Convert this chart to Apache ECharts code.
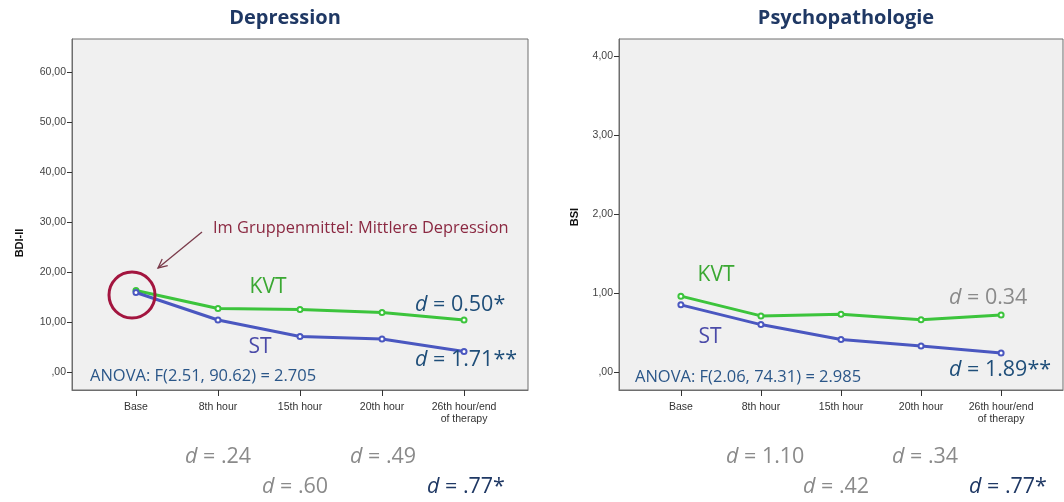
<!DOCTYPE html>
<html>
<head>
<meta charset="utf-8">
<script src="https://cdn.jsdelivr.net/npm/echarts@6/dist/echarts.min.js"></script>
<style>
html,body{margin:0;padding:0;background:#fff;}
#c{width:1064px;height:502px;}
</style>
</head>
<body>
<div id="c"></div>
<script>
// ---- data ----
var categories = ['Base', '8th hour', '15th hour', '20th hour', '26th hour/end\nof therapy'];
var bdiKVT = [16.3, 12.7, 12.5, 11.9, 10.4];
var bdiST  = [15.9, 10.4, 7.1, 6.6, 4.1];
var bsiKVT = [0.96, 0.71, 0.73, 0.66, 0.72];
var bsiST  = [0.85, 0.60, 0.41, 0.33, 0.24];
var bdiTicks = [0, 10, 20, 30, 40, 50, 60];
var bsiTicks = [0, 1, 2, 3, 4];
var catTicks = [0, 1, 2, 3, 4];

function pairs(arr){ return arr.map(function(v,i){ return [i, v]; }); }
function yFmt(v){ return v === 0 ? ',00' : v.toFixed(2).replace('.', ','); }

var GREEN = '#3cc43c', BLUE = '#4a57c0';

function xAxisCfg(idx, min, max){
  return {
    type:'value', gridIndex: idx, min: min, max: max,
    splitLine:{show:false},
    axisLine:{show:true, onZero:false, lineStyle:{color:'#6e6e6e', width:1}},
    axisTick:{show:true, customValues: catTicks, length:6, lineStyle:{color:'#333'}},
    axisLabel:{customValues: catTicks, formatter:function(v){ return categories[Math.round(v)]; },
      color:'#333', fontSize:10.5, fontFamily:'Liberation Sans, Arial', lineHeight:12, margin:11}
  };
}
function yAxisCfg(idx, min, max, ticks){
  return {
    type:'value', gridIndex: idx, min: min, max: max,
    splitLine:{show:false},
    axisLine:{show:true, onZero:false, lineStyle:{color:'#6e6e6e', width:1}},
    axisTick:{show:true, customValues: ticks, length:5, lineStyle:{color:'#333'}},
    axisLabel:{customValues: ticks, formatter: yFmt, color:'#444', fontSize:10.5,
      fontFamily:'Liberation Sans, Arial', margin:6}
  };
}
function lineSeries(name, xi, data, color){
  return {
    name: name, type:'line', xAxisIndex: xi, yAxisIndex: xi, data: pairs(data),
    symbol:'emptyCircle', symbolSize:5,
    lineStyle:{color: color, width:3},
    itemStyle:{color: color, borderColor: color, borderWidth:1},
    emphasis:{disabled:true}, z:3
  };
}

var F = '"Open Sans", "Noto Sans", sans-serif';
function txt(x, y, s, color, size, align, bold){
  return {type:'text', x:x, y:y, z:100, style:{
    text: s, fill: color, font: (bold ? 'bold ' : '') + size + 'px ' + F,
    textAlign: align || 'left', textVerticalAlign:'middle'}};
}
function dTxt(x, y, rest, color, size, align){
  return {type:'text', x:x, y:y, z:100, style:{
    text: '{i|d}{n|' + rest + '}', textAlign: align || 'left', textVerticalAlign:'middle',
    rich:{ i:{fontStyle:'italic', fontSize:size, fontFamily:F, fill:color},
           n:{fontSize:size, fontFamily:F, fill:color} }}};
}

// arrow geometry
var ax0 = 202, ay0 = 232, ax1 = 158, ay1 = 268;
var ang = Math.atan2(ay0 - ay1, ax0 - ax1), hl = 10, ha = Math.PI / 7;
var head = [[ax1 + hl*Math.cos(ang+ha), ay1 + hl*Math.sin(ang+ha)], [ax1, ay1],
            [ax1 + hl*Math.cos(ang-ha), ay1 + hl*Math.sin(ang-ha)]];

var MAROON = '#8b2942', NAVY = '#1f3864', STEEL = '#2a5688', GRAY = '#8a8a8a';

var graphics = [
  txt(285, 18, 'Depression', NAVY, 20, 'center', true),
  txt(846, 18, 'Psychopathologie', NAVY, 20, 'center', true),
  {type:'text', x:20, y:243, rotation:Math.PI/2, z:100, style:{text:'BDI-II', fill:'#111',
    font:'bold 11px "Liberation Sans", Arial', textAlign:'center', textVerticalAlign:'middle'}},
  {type:'text', x:575, y:217, rotation:Math.PI/2, z:100, style:{text:'BSI', fill:'#111',
    font:'bold 11px "Liberation Sans", Arial', textAlign:'center', textVerticalAlign:'middle'}},
  // left annotations
  txt(213, 228, 'Im Gruppenmittel: Mittlere Depression', MAROON, 16.4, 'left'),
  {type:'line', z:100, shape:{x1:ax0, y1:ay0, x2:ax1, y2:ay1}, style:{stroke:'#7a3a4a', lineWidth:1.3}},
  {type:'polyline', z:100, shape:{points: head}, style:{stroke:'#7a3a4a', lineWidth:1.3, fill:'none'}},
  {type:'circle', z:100, shape:{cx:132, cy:295, r:23}, style:{fill:'none', stroke:'#a3153f', lineWidth:3}},
  txt(268, 287, 'KVT', '#3aa832', 21, 'center'),
  txt(260, 347, 'ST', '#4a4aa8', 21, 'center'),
  dTxt(415, 305, ' = 0.50*', '#1f4e79', 21.5, 'left'),
  dTxt(415, 360, ' = 1.71**', '#1f4e79', 21.5, 'left'),
  txt(90, 376, 'ANOVA: F(2.51, 90.62) = 2.705', STEEL, 16.5, 'left'),
  // right annotations
  txt(716, 275, 'KVT', '#3aa832', 21, 'center'),
  txt(710, 337, 'ST', '#4a4aa8', 21, 'center'),
  dTxt(949, 298, ' = 0.34', GRAY, 21.5, 'left'),
  dTxt(949, 370, ' = 1.89**', '#1f4e79', 21.5, 'left'),
  txt(635, 377, 'ANOVA: F(2.06, 74.31) = 2.985', STEEL, 16.5, 'left'),
  // below left
  dTxt(185, 457, ' = .24', GRAY, 21.5, 'left'),
  dTxt(350, 457, ' = .49', GRAY, 21.5, 'left'),
  dTxt(262, 487, ' = .60', GRAY, 21.5, 'left'),
  dTxt(427, 487, ' = .77*', NAVY, 21.5, 'left'),
  // below right
  dTxt(726, 457, ' = 1.10', GRAY, 21.5, 'left'),
  dTxt(892, 457, ' = .34', GRAY, 21.5, 'left'),
  dTxt(803, 487, ' = .42', GRAY, 21.5, 'left'),
  dTxt(969, 487, ' = .77*', NAVY, 21.5, 'left')
];

var chart = echarts.init(document.getElementById('c'), null, {renderer:'canvas'});
chart.setOption({
  animation:false,
  backgroundColor:'#ffffff',
  grid:[
    {left:72, top:39, right:536, bottom:112, show:true, backgroundColor:'#f0f0f0', borderColor:'#6e6e6e', borderWidth:1},
    {left:619, top:39, right:1, bottom:112, show:true, backgroundColor:'#f0f0f0', borderColor:'#6e6e6e', borderWidth:1}
  ],
  xAxis:[ xAxisCfg(0, -0.78, 4.78), xAxisCfg(1, -0.773, 4.773) ],
  yAxis:[ yAxisCfg(0, -3.6, 66.6, bdiTicks), yAxisCfg(1, -0.228, 4.215, bsiTicks) ],
  series:[
    lineSeries('KVT', 0, bdiKVT, GREEN),
    lineSeries('ST', 0, bdiST, BLUE),
    lineSeries('KVT', 1, bsiKVT, GREEN),
    lineSeries('ST', 1, bsiST, BLUE)
  ],
  graphic: graphics
});
</script>
</body>
</html>
